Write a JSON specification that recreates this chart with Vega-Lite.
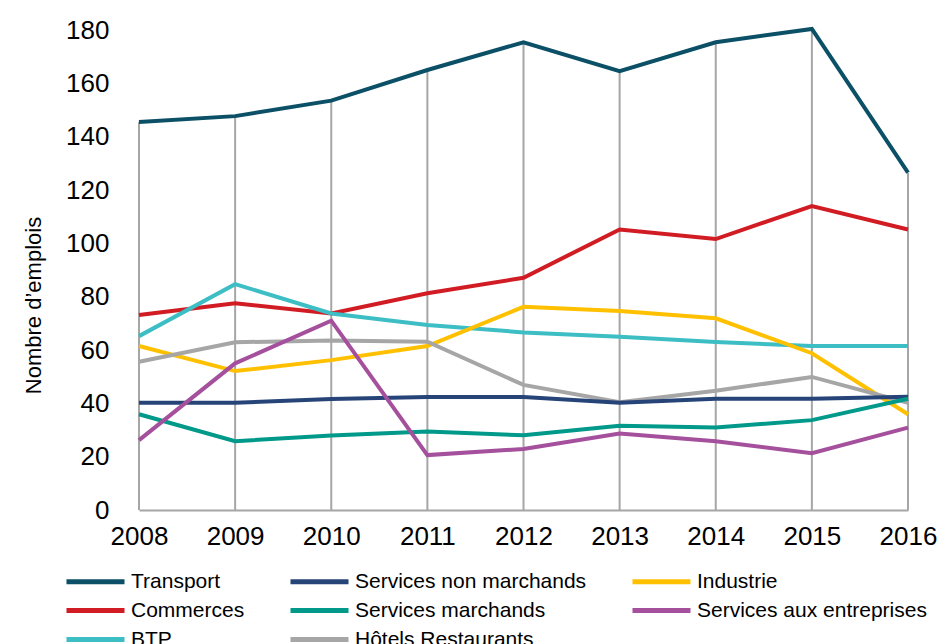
{
  "$schema": "https://vega.github.io/schema/vega-lite/v6.json",
  "width": 769,
  "height": 480,
  "autosize": {"type": "none"},
  "padding": {"left": 139, "top": 30, "right": 33, "bottom": 134},
  "background": "white",
  "config": {
    "view": {"stroke": null},
    "font": "Liberation Sans",
    "axis": {"labelFont": "Liberation Sans", "titleFont": "Liberation Sans", "labelColor": "#000000", "titleColor": "#000000"},
    "legend": {"labelFont": "Liberation Sans", "labelColor": "#000000"}
  },
  "data": {
    "values": [
      {"year": "2008", "sector": "Transport", "value": 145.5},
      {"year": "2009", "sector": "Transport", "value": 147.7},
      {"year": "2010", "sector": "Transport", "value": 153.5},
      {"year": "2011", "sector": "Transport", "value": 165},
      {"year": "2012", "sector": "Transport", "value": 175.4},
      {"year": "2013", "sector": "Transport", "value": 164.6},
      {"year": "2014", "sector": "Transport", "value": 175.4},
      {"year": "2015", "sector": "Transport", "value": 180.4},
      {"year": "2016", "sector": "Transport", "value": 126.5},
      {"year": "2008", "sector": "Commerces", "value": 73.1},
      {"year": "2009", "sector": "Commerces", "value": 77.5},
      {"year": "2010", "sector": "Commerces", "value": 73.7},
      {"year": "2011", "sector": "Commerces", "value": 81.3},
      {"year": "2012", "sector": "Commerces", "value": 87.1},
      {"year": "2013", "sector": "Commerces", "value": 105.2},
      {"year": "2014", "sector": "Commerces", "value": 101.6},
      {"year": "2015", "sector": "Commerces", "value": 114},
      {"year": "2016", "sector": "Commerces", "value": 105.2},
      {"year": "2008", "sector": "BTP", "value": 65.2},
      {"year": "2009", "sector": "BTP", "value": 84.7},
      {"year": "2010", "sector": "BTP", "value": 73.7},
      {"year": "2011", "sector": "BTP", "value": 69.4},
      {"year": "2012", "sector": "BTP", "value": 66.6},
      {"year": "2013", "sector": "BTP", "value": 65},
      {"year": "2014", "sector": "BTP", "value": 63},
      {"year": "2015", "sector": "BTP", "value": 61.5},
      {"year": "2016", "sector": "BTP", "value": 61.5},
      {"year": "2008", "sector": "Industrie", "value": 61.5},
      {"year": "2009", "sector": "Industrie", "value": 52.1},
      {"year": "2010", "sector": "Industrie", "value": 56.2},
      {"year": "2011", "sector": "Industrie", "value": 61.5},
      {"year": "2012", "sector": "Industrie", "value": 76.2},
      {"year": "2013", "sector": "Industrie", "value": 74.6},
      {"year": "2014", "sector": "Industrie", "value": 71.9},
      {"year": "2015", "sector": "Industrie", "value": 58.8},
      {"year": "2016", "sector": "Industrie", "value": 35.9},
      {"year": "2008", "sector": "Hôtels Restaurants", "value": 55.6},
      {"year": "2009", "sector": "Hôtels Restaurants", "value": 62.9},
      {"year": "2010", "sector": "Hôtels Restaurants", "value": 63.6},
      {"year": "2011", "sector": "Hôtels Restaurants", "value": 63.1},
      {"year": "2012", "sector": "Hôtels Restaurants", "value": 46.9},
      {"year": "2013", "sector": "Hôtels Restaurants", "value": 40.4},
      {"year": "2014", "sector": "Hôtels Restaurants", "value": 44.7},
      {"year": "2015", "sector": "Hôtels Restaurants", "value": 49.9},
      {"year": "2016", "sector": "Hôtels Restaurants", "value": 40.2},
      {"year": "2008", "sector": "Services non marchands", "value": 40.2},
      {"year": "2009", "sector": "Services non marchands", "value": 40.2},
      {"year": "2010", "sector": "Services non marchands", "value": 41.6},
      {"year": "2011", "sector": "Services non marchands", "value": 42.4},
      {"year": "2012", "sector": "Services non marchands", "value": 42.4},
      {"year": "2013", "sector": "Services non marchands", "value": 40.2},
      {"year": "2014", "sector": "Services non marchands", "value": 41.7},
      {"year": "2015", "sector": "Services non marchands", "value": 41.7},
      {"year": "2016", "sector": "Services non marchands", "value": 42.5},
      {"year": "2008", "sector": "Services marchands", "value": 35.9},
      {"year": "2009", "sector": "Services marchands", "value": 25.8},
      {"year": "2010", "sector": "Services marchands", "value": 27.9},
      {"year": "2011", "sector": "Services marchands", "value": 29.4},
      {"year": "2012", "sector": "Services marchands", "value": 28},
      {"year": "2013", "sector": "Services marchands", "value": 31.6},
      {"year": "2014", "sector": "Services marchands", "value": 30.9},
      {"year": "2015", "sector": "Services marchands", "value": 33.7},
      {"year": "2016", "sector": "Services marchands", "value": 41.7},
      {"year": "2008", "sector": "Services aux entreprises", "value": 26.2},
      {"year": "2009", "sector": "Services aux entreprises", "value": 55},
      {"year": "2010", "sector": "Services aux entreprises", "value": 71},
      {"year": "2011", "sector": "Services aux entreprises", "value": 20.6},
      {"year": "2012", "sector": "Services aux entreprises", "value": 22.9},
      {"year": "2013", "sector": "Services aux entreprises", "value": 28.7},
      {"year": "2014", "sector": "Services aux entreprises", "value": 25.8},
      {"year": "2015", "sector": "Services aux entreprises", "value": 21.3},
      {"year": "2016", "sector": "Services aux entreprises", "value": 30.9}
    ]
  },
  "encoding": {
    "x": {
      "field": "year",
      "type": "ordinal",
      "scale": {"type": "point", "padding": 0},
      "axis": {
        "title": null,
        "labelAngle": 0,
        "labelFontSize": 26,
        "labelPadding": 13,
        "ticks": false,
        "grid": false,
        "domain": true,
        "domainColor": "#a6a6a6",
        "domainWidth": 2
      }
    },
    "y": {
      "field": "value",
      "type": "quantitative",
      "scale": {"domain": [0, 180], "nice": false, "zero": true},
      "axis": {
        "title": "Nombre d’emplois",
        "titleFontSize": 22,
        "titleFontWeight": "normal",
        "titleAngle": 270,
        "titleX": -99,
        "titleY": 275,
        "titleAlign": "center",
        "titleBaseline": "alphabetic",
        "values": [0, 20, 40, 60, 80, 100, 120, 140, 160, 180],
        "labelFontSize": 26,
        "labelPadding": 30,
        "labelBaseline": "middle",
        "ticks": false,
        "grid": false,
        "domain": false
      }
    }
  },
  "layer": [
    {
      "transform": [{"filter": "datum.sector === 'Transport'"}],
      "mark": {"type": "rule", "color": "#a6a6a6", "strokeWidth": 2},
      "encoding": {"y2": {"datum": 0}}
    },
    {
      "mark": {"type": "line", "strokeWidth": 4, "strokeJoin": "miter", "strokeCap": "butt"},
      "encoding": {
        "color": {
          "field": "sector",
          "type": "nominal",
          "scale": {
            "domain": ["Transport", "Services non marchands", "Industrie", "Commerces", "Services marchands", "Services aux entreprises", "BTP", "Hôtels Restaurants"],
            "range": ["#0b5066", "#264478", "#ffc000", "#d21c24", "#00998a", "#a5509c", "#3cbec4", "#a6a6a6"]
          },
          "legend": {
            "title": null,
            "orient": "none",
            "legendX": -56,
            "legendY": 539,
            "direction": "horizontal",
            "columns": 3,
            "columnPadding": 35,
            "rowPadding": 6,
            "symbolType": "M-3,0H3",
            "symbolSize": 374,
            "symbolStrokeWidth": 5,
            "symbolStrokeCap": "round",
            "labelFontSize": 21,
            "labelOffset": 23,
            "labelLimit": 400
          }
        }
      }
    }
  ]
}
